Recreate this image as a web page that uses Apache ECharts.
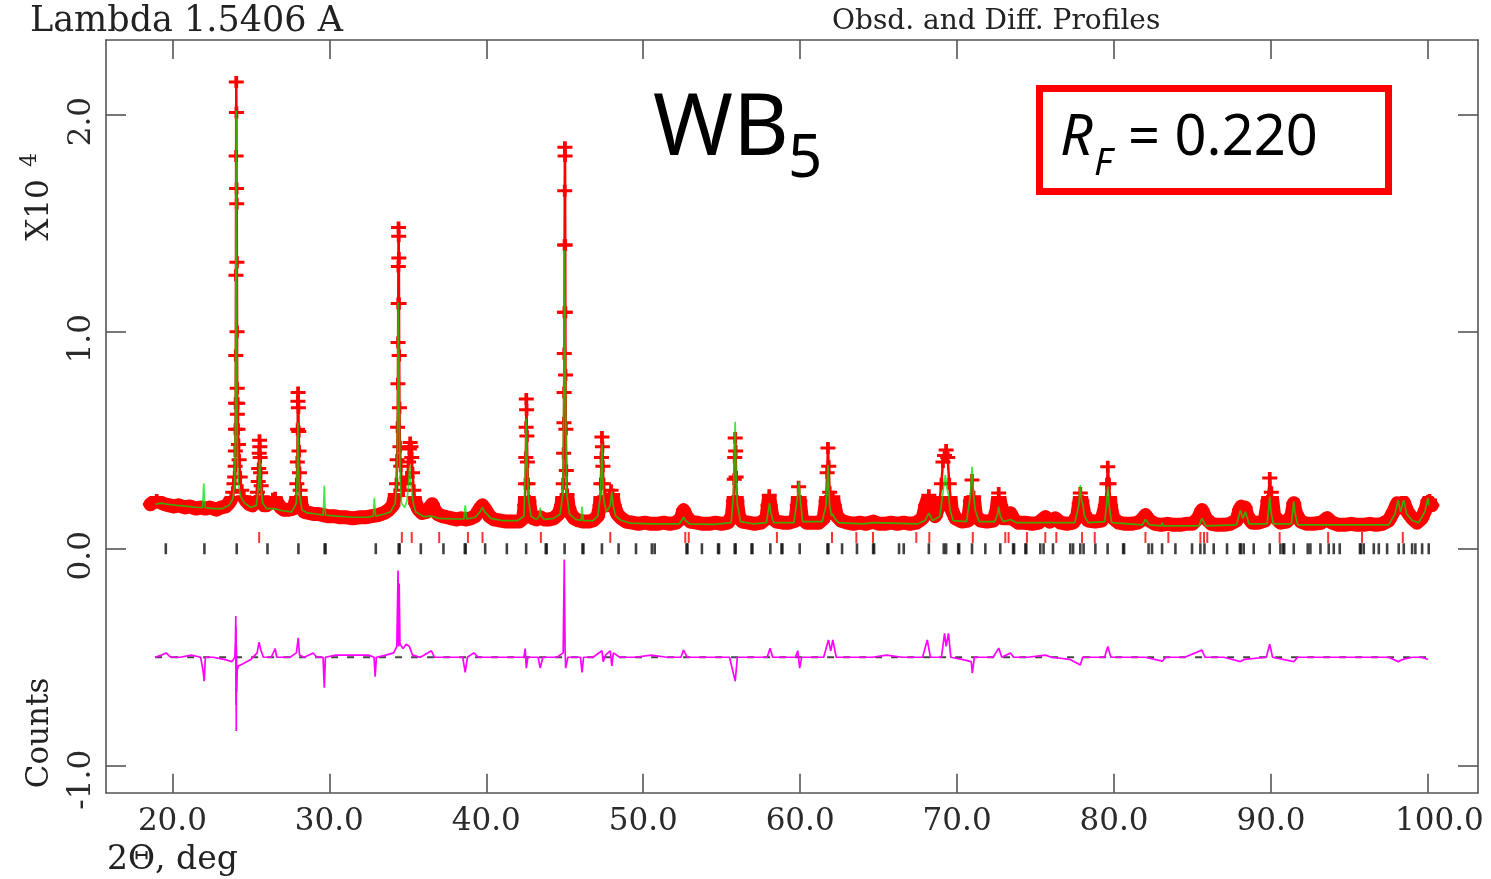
<!DOCTYPE html>
<html><head><meta charset="utf-8">
<script src="https://cdn.jsdelivr.net/npm/echarts@6/dist/echarts.min.js"></script>
<style>html,body{margin:0;padding:0;background:#fff}#chart{width:1491px;height:879px}</style>
</head><body><div id="chart"></div>
<script>
const xTickValues=[20,30,40,50,60,70,80,90,100];
const yTickValues=[-1,0,1,2];

const obsData=[[18.6,0.205],[18.8,0.215],[19.0,0.225],[19.2,0.215],[19.5,0.205],[19.8,0.2],[20.1,0.195],[20.4,0.2],[20.8,0.19],[21.1,0.195],[21.5,0.185],[21.8,0.19],[22.1,0.185],[22.4,0.19],[22.8,0.18],[23.1,0.19],[23.4,0.195],[23.6,0.21],[23.75,0.23],
[23.85,0.26],[23.92,0.3],[23.97,0.33],[24.0,0.38],[24.01,0.45],[24.02,0.55],[24.03,0.67],[24.04,0.89],[24.05,1.26],[24.06,1.81],[24.07,2.15],[24.08,2.01],[24.09,1.66],[24.1,1.59],[24.11,1.32],[24.12,1.0],[24.13,0.74],[24.14,0.62],[24.16,0.67],[24.18,0.55],[24.21,0.48],[24.25,0.41],[24.32,0.33],[24.42,0.27],[24.55,0.24],[24.7,0.22],[24.9,0.205],[25.1,0.2],[25.3,0.22],
[25.42,0.26],[25.47,0.31],[25.5,0.37],[25.53,0.44],[25.55,0.5],[25.57,0.47],[25.59,0.42],[25.62,0.35],[25.66,0.29],[25.72,0.24],[25.85,0.2],[26.0,0.2],[26.2,0.21],[26.4,0.23],[26.55,0.235],[26.7,0.21],[26.9,0.19],[27.1,0.18],[27.4,0.18],[27.7,0.185],
[27.88,0.22],[27.93,0.3],[27.96,0.4],[27.98,0.55],[28.0,0.68],[28.01,0.72],[28.03,0.65],[28.05,0.54],[28.07,0.45],[28.1,0.35],[28.14,0.27],[28.22,0.2],[28.4,0.17],[28.7,0.165],[29.0,0.16],[29.3,0.16],[29.6,0.155],[29.9,0.15],[30.3,0.15],[30.7,0.145],[31.1,0.145],[31.5,0.14],[31.9,0.145],[32.3,0.145],[32.7,0.15],[33.1,0.155],[33.5,0.165],[33.8,0.18],[34.05,0.2],[34.2,0.25],
[34.28,0.3],[34.32,0.41],[34.35,0.56],[34.37,0.76],[34.38,0.95],[34.39,1.13],[34.4,1.30],[34.41,1.48],[34.42,1.44],[34.43,1.34],[34.44,1.13],[34.45,0.89],[34.47,0.65],[34.5,0.47],[34.55,0.38],[34.62,0.3],[34.7,0.27],[34.8,0.3],
[34.95,0.33],[35.05,0.4],[35.1,0.46],[35.15,0.49],[35.2,0.47],[35.25,0.42],[35.3,0.35],[35.38,0.27],[35.5,0.21],[35.7,0.18],[35.9,0.165],[36.2,0.17],[36.4,0.19],[36.55,0.205],[36.7,0.18],[36.9,0.16],[37.2,0.15],[37.5,0.145],[37.8,0.14],[38.1,0.135],[38.4,0.14],[38.7,0.135],[39.0,0.14],[39.3,0.15],[39.55,0.18],[39.75,0.2],[39.95,0.18],[40.2,0.15],[40.5,0.135],[40.9,0.13],[41.3,0.125],[41.7,0.125],[42.1,0.125],[42.35,0.14],
[42.45,0.2],[42.5,0.3],[42.52,0.42],[42.54,0.56],[42.55,0.69],[42.57,0.64],[42.59,0.52],[42.62,0.4],[42.66,0.3],[42.72,0.22],[42.85,0.16],[43.0,0.14],[43.2,0.135],[43.45,0.145],[43.7,0.135],[44.0,0.135],[44.3,0.14],[44.6,0.16],[44.8,0.2],
[44.9,0.3],[44.93,0.44],[44.95,0.58],[44.96,0.72],[44.97,0.90],[44.98,1.09],[44.99,1.4],[45.0,1.65],[45.01,1.85],[45.02,1.81],[45.03,1.4],[45.04,1.09],[45.05,0.8],[45.07,0.55],[45.1,0.36],[45.15,0.25],[45.25,0.19],[45.4,0.16],[45.6,0.14],[45.9,0.13],[46.2,0.125],[46.5,0.125],[46.8,0.13],[47.1,0.15],
[47.25,0.2],[47.3,0.3],[47.34,0.42],[47.37,0.515],[47.4,0.47],[47.43,0.38],[47.47,0.3],[47.55,0.24],[47.7,0.2],[47.85,0.24],[47.95,0.27],[48.05,0.25],[48.15,0.2],[48.35,0.16],[48.6,0.14],[48.9,0.125],[49.3,0.12],[49.7,0.115],[50.1,0.12],[50.5,0.115],[50.9,0.115],[51.3,0.12],[51.7,0.115],[52.1,0.12],[52.4,0.14],[52.57,0.178],[52.75,0.15],[53.0,0.125],[53.4,0.12],[53.8,0.115],[54.2,0.115],[54.6,0.12],[55.0,0.115],[55.4,0.12],[55.65,0.15],
[55.75,0.22],[55.8,0.32],[55.83,0.42],[55.86,0.51],[55.89,0.45],[55.92,0.33],[55.97,0.22],[56.1,0.15],[56.3,0.125],[56.7,0.12],[57.1,0.115],[57.5,0.12],[57.85,0.14],[57.95,0.2],[58.03,0.247],[58.1,0.2],[58.25,0.14],[58.5,0.125],[58.9,0.12],[59.3,0.12],[59.7,0.13],[59.82,0.2],[59.9,0.286],[59.98,0.22],[60.1,0.14],[60.4,0.12],[60.8,0.12],[61.2,0.12],[61.5,0.14],[61.65,0.22],[61.72,0.35],[61.77,0.464],[61.82,0.38],[61.88,0.26],[61.98,0.2],[62.08,0.24],[62.18,0.2],[62.35,0.15],[62.6,0.13],[63.0,0.12],[63.4,0.115],[63.8,0.12],[64.2,0.115],[64.65,0.125],[65.0,0.115],[65.4,0.115],[65.8,0.12],[66.2,0.115],[66.6,0.12],[67.0,0.115],[67.4,0.12],[67.8,0.14],[68.0,0.2],[68.2,0.247],[68.4,0.19],[68.6,0.15],[68.85,0.2],[69.0,0.3],[69.1,0.4],[69.2,0.43],[69.3,0.455],[69.4,0.42],[69.5,0.3],[69.65,0.18],[69.9,0.14],[70.3,0.125],[70.7,0.13],[70.85,0.22],[70.95,0.317],[71.05,0.24],[71.2,0.15],[71.5,0.13],[71.9,0.125],[72.3,0.13],[72.5,0.17],[72.65,0.257],[72.78,0.2],[72.95,0.14],[73.2,0.14],[73.4,0.164],[73.6,0.135],[73.9,0.12],[74.3,0.12],[74.8,0.115],[75.2,0.12],[75.63,0.146],[75.9,0.125],[76.26,0.14],[76.6,0.12],[77.0,0.115],[77.4,0.12],[77.65,0.15],[77.78,0.21],[77.85,0.257],[77.95,0.22],[78.1,0.16],[78.35,0.13],[78.8,0.125],[79.2,0.13],[79.45,0.2],[79.55,0.3],[79.6,0.378],[79.68,0.3],[79.78,0.2],[79.95,0.14],[80.3,0.12],[80.7,0.115],[81.1,0.115],[81.5,0.12],[81.8,0.135],[82.0,0.155],[82.25,0.13],[82.6,0.115],[83.0,0.11],[83.4,0.115],[83.8,0.11],[84.2,0.11],[84.6,0.115],[85.0,0.115],[85.35,0.14],[85.6,0.178],[85.85,0.14],[86.2,0.115],[86.6,0.11],[87.0,0.11],[87.4,0.115],[87.8,0.13],[88.0,0.18],[88.1,0.194],[88.2,0.16],[88.35,0.19],[88.5,0.15],[88.8,0.12],[89.2,0.12],[89.6,0.13],[89.8,0.22],[89.92,0.326],[90.02,0.26],[90.2,0.15],[90.6,0.12],[91.0,0.125],[91.3,0.15],[91.45,0.21],[91.6,0.16],[91.9,0.125],[92.3,0.115],[92.7,0.115],[93.2,0.12],[93.58,0.141],[93.9,0.12],[94.3,0.11],[94.7,0.11],[95.1,0.115],[95.5,0.11],[95.9,0.11],[96.3,0.115],[96.7,0.11],[97.1,0.115],[97.5,0.13],[97.8,0.17],[98.05,0.21],[98.2,0.19],[98.45,0.215],[98.7,0.17],[99.0,0.14],[99.3,0.12],[99.6,0.14],[99.85,0.18],[100.0,0.22],[100.1,0.225],[100.25,0.2]];

const calcData=[[18.9,0.205],[19.3,0.21],[19.7,0.205],[20.3,0.2],[21.0,0.195],[21.6,0.19],[21.92,0.19],[21.97,0.25],[22.0,0.3],[22.03,0.25],[22.08,0.19],[22.6,0.185],[23.2,0.185],[23.6,0.2],[23.85,0.23],[23.97,0.3],[24.02,0.6],[24.04,1.2],[24.06,1.75],[24.07,2.02],[24.08,1.7],[24.1,1.0],[24.12,0.58],[24.13,0.56],[24.15,0.4],[24.2,0.3],[24.35,0.24],[24.6,0.21],[25.0,0.19],[25.35,0.2],[25.5,0.3],[25.56,0.41],[25.62,0.3],[25.75,0.21],[26.0,0.185],[26.5,0.185],[27.0,0.175],[27.6,0.17],[27.9,0.21],[27.97,0.4],[28.0,0.58],[28.03,0.4],[28.06,0.34],[28.1,0.25],[28.25,0.18],[28.6,0.165],[29.2,0.16],[29.6,0.155],[29.65,0.22],[29.68,0.29],[29.71,0.22],[29.76,0.155],[30.5,0.15],[31.5,0.145],[32.4,0.145],[32.8,0.15],[32.84,0.2],[32.87,0.235],[32.9,0.2],[32.95,0.15],[33.5,0.16],[33.9,0.17],[34.2,0.21],[34.32,0.35],[34.36,0.7],[34.39,1.134],[34.42,0.9],[34.44,0.86],[34.47,0.55],[34.52,0.3],[34.6,0.21],[34.8,0.19],[34.95,0.22],[35.05,0.3],[35.12,0.385],[35.18,0.3],[35.24,0.28],[35.32,0.22],[35.5,0.17],[36.0,0.148],[36.5,0.15],[37.0,0.14],[38.0,0.137],[38.58,0.137],[38.63,0.18],[38.66,0.2],[38.69,0.18],[38.75,0.137],[39.3,0.145],[39.6,0.17],[39.75,0.19],[39.9,0.17],[40.3,0.14],[41.0,0.13],[42.0,0.13],[42.4,0.15],[42.5,0.4],[42.55,0.6],[42.6,0.4],[42.63,0.35],[42.7,0.22],[42.85,0.15],[43.2,0.135],[43.38,0.15],[43.44,0.19],[43.5,0.15],[43.7,0.135],[44.3,0.14],[44.7,0.16],[44.88,0.25],[44.95,0.8],[44.99,1.376],[45.02,1.0],[45.05,0.68],[45.08,0.5],[45.13,0.25],[45.3,0.16],[45.7,0.135],[46.05,0.13],[46.08,0.17],[46.1,0.194],[46.13,0.17],[46.18,0.13],[46.8,0.13],[47.1,0.15],[47.28,0.25],[47.34,0.4],[47.37,0.48],[47.41,0.35],[47.45,0.257],[47.5,0.22],[47.65,0.17],[47.9,0.2],[48.0,0.263],[48.08,0.2],[48.25,0.15],[48.6,0.13],[49.2,0.118],[50.5,0.115],[52.3,0.115],[52.45,0.13],[52.57,0.146],[52.7,0.13],[52.95,0.115],[54.5,0.112],[55.6,0.12],[55.75,0.25],[55.83,0.5],[55.86,0.585],[55.9,0.4],[55.93,0.3],[56.0,0.2],[56.2,0.125],[57.0,0.115],[57.85,0.12],[57.98,0.18],[58.05,0.21],[58.12,0.17],[58.3,0.12],[59.6,0.12],[59.85,0.25],[59.92,0.309],[59.99,0.24],[60.15,0.125],[61.4,0.125],[61.65,0.2],[61.74,0.33],[61.77,0.386],[61.82,0.28],[61.88,0.2],[62.0,0.15],[62.08,0.16],[62.2,0.14],[62.45,0.12],[64.0,0.115],[64.65,0.12],[67.5,0.115],[67.95,0.13],[68.2,0.164],[68.45,0.13],[68.9,0.15],[69.1,0.26],[69.25,0.34],[69.35,0.28],[69.45,0.25],[69.55,0.18],[69.75,0.13],[70.6,0.125],[70.85,0.25],[70.95,0.378],[71.05,0.25],[71.15,0.18],[71.4,0.125],[72.4,0.125],[72.58,0.16],[72.65,0.194],[72.75,0.15],[72.95,0.125],[73.4,0.135],[73.8,0.12],[77.5,0.12],[77.75,0.2],[77.85,0.293],[77.93,0.22],[78.0,0.21],[78.12,0.15],[78.35,0.12],[79.4,0.125],[79.52,0.2],[79.6,0.286],[79.68,0.2],[79.85,0.12],[81.8,0.11],[82.0,0.135],[82.25,0.11],[83.0,0.105],[83.07,0.12],[83.14,0.105],[85.4,0.105],[85.6,0.14],[85.85,0.105],[87.8,0.11],[88.05,0.178],[88.2,0.14],[88.37,0.17],[88.6,0.115],[89.75,0.115],[89.85,0.18],[89.92,0.24],[90.0,0.17],[90.15,0.115],[91.3,0.115],[91.4,0.18],[91.45,0.217],[91.52,0.17],[91.7,0.11],[93.5,0.11],[97.5,0.11],[97.9,0.16],[98.1,0.224],[98.25,0.17],[98.45,0.224],[98.65,0.16],[99.0,0.13],[99.4,0.12],[99.8,0.17],[100.0,0.233],[100.05,0.2]];

const diffData=[[18.9,-0.5],[19.3,-0.49],[19.6,-0.48],[19.9,-0.5],[20.5,-0.5],[21.2,-0.49],[21.8,-0.5],[21.95,-0.56],[22.03,-0.61],[22.1,-0.5],[22.6,-0.5],[23.3,-0.51],[23.8,-0.52],[23.98,-0.5],[24.02,-0.42],[24.04,-0.31],[24.05,-0.72],[24.06,-0.36],[24.07,-0.84],[24.08,-0.45],[24.1,-0.66],[24.13,-0.56],[24.2,-0.54],[24.5,-0.53],[25.0,-0.51],[25.4,-0.48],[25.52,-0.43],[25.65,-0.47],[25.8,-0.5],[26.3,-0.5],[26.55,-0.46],[26.65,-0.5],[27.0,-0.5],[27.5,-0.5],[27.9,-0.48],[28.02,-0.41],[28.1,-0.49],[28.4,-0.5],[28.97,-0.48],[29.2,-0.5],[29.6,-0.5],[29.68,-0.64],[29.75,-0.5],[30.4,-0.49],[31.5,-0.49],[32.5,-0.49],[32.85,-0.5],[32.92,-0.59],[33.0,-0.5],[33.6,-0.49],[34.1,-0.48],[34.3,-0.45],[34.38,-0.10],[34.42,-0.45],[34.45,-0.16],[34.5,-0.44],[34.7,-0.46],[34.9,-0.44],[35.1,-0.45],[35.3,-0.49],[35.8,-0.5],[36.5,-0.47],[36.7,-0.5],[37.5,-0.5],[38.5,-0.5],[38.66,-0.57],[38.8,-0.5],[39.2,-0.48],[39.5,-0.5],[40.5,-0.5],[41.5,-0.5],[42.4,-0.5],[42.48,-0.46],[42.55,-0.55],[42.65,-0.5],[43.3,-0.5],[43.44,-0.55],[43.6,-0.5],[44.5,-0.5],[44.9,-0.48],[44.97,-0.05],[45.02,-0.46],[45.06,-0.55],[45.2,-0.5],[46.0,-0.5],[46.1,-0.57],[46.2,-0.5],[46.8,-0.5],[47.37,-0.47],[47.45,-0.52],[47.6,-0.49],[47.9,-0.47],[48.0,-0.54],[48.1,-0.48],[48.5,-0.5],[49.5,-0.5],[50.5,-0.49],[51.5,-0.5],[52.4,-0.5],[52.57,-0.467],[52.8,-0.5],[54.0,-0.5],[55.5,-0.5],[55.86,-0.61],[56.0,-0.5],[57.0,-0.5],[57.9,-0.5],[58.08,-0.458],[58.25,-0.5],[59.7,-0.5],[59.85,-0.47],[59.97,-0.55],[60.1,-0.5],[61.5,-0.5],[61.8,-0.42],[61.95,-0.47],[62.08,-0.42],[62.3,-0.5],[63.3,-0.5],[64.6,-0.5],[65.5,-0.49],[66.5,-0.5],[67.8,-0.5],[68.1,-0.42],[68.3,-0.5],[69.0,-0.5],[69.2,-0.39],[69.3,-0.45],[69.45,-0.39],[69.6,-0.5],[70.3,-0.51],[70.9,-0.52],[70.97,-0.573],[71.1,-0.5],[72.3,-0.5],[72.65,-0.458],[72.85,-0.5],[73.4,-0.48],[73.6,-0.5],[74.5,-0.5],[75.63,-0.49],[76.0,-0.5],[77.2,-0.51],[77.85,-0.536],[78.0,-0.5],[79.4,-0.5],[79.6,-0.45],[79.8,-0.5],[81.0,-0.5],[82.0,-0.5],[83.07,-0.518],[83.3,-0.5],[84.5,-0.5],[85.6,-0.467],[85.8,-0.5],[87.0,-0.5],[88.05,-0.52],[88.3,-0.51],[89.7,-0.5],[89.92,-0.44],[90.1,-0.5],[91.45,-0.52],[91.7,-0.5],[93.0,-0.5],[94.5,-0.5],[96.0,-0.5],[97.5,-0.5],[98.1,-0.52],[98.4,-0.51],[99.0,-0.5],[99.6,-0.5],[100.0,-0.51]];

const diffZeroLine=[[18.9,-0.5],[100.0,-0.5]];

const wb5ReflectionX=[19.58,22.04,24.1,26.06,28.03,29.70,29.76,32.96,34.42,34.48,35.83,37.27,38.63,38.69,39.93,41.31,42.54,43.79,43.85,44.99,46.13,46.19,47.37,48.43,49.54,50.55,50.73,52.76,52.82,53.74,54.77,54.83,55.83,55.89,56.9,56.96,58.1,58.81,58.87,59.97,61.74,61.8,62.67,63.62,64.65,64.71,66.3,66.6,68.2,69.15,69.3,70.07,70.13,70.95,71.8,72.75,73.57,73.63,74.35,74.41,75.3,75.51,76.11,77.21,77.39,77.85,78.06,78.81,79.59,80.58,80.64,82.2,82.42,83.06,83.91,84.97,85.5,85.76,86.35,87.2,88.02,88.08,88.26,88.9,89.92,90.6,90.78,90.84,91.45,92.34,92.51,93.15,93.68,94.0,94.38,95.67,95.73,95.91,96.55,96.87,97.4,98.14,98.46,98.99,99.2,99.63,100.05];
const phase2ReflectionX=[25.53,34.62,35.25,37.0,38.83,39.76,43.48,47.9,52.68,52.9,58.52,62.03,63.58,64.64,67.4,68.23,71.0,73.07,73.28,74.45,75.62,76.32,77.96,78.77,82.0,83.46,85.5,85.73,85.94,90.55,93.64,95.8,98.4];

const chart=echarts.init(document.getElementById('chart'),null,{renderer:'canvas'});
const serif='"DejaVu Serif"';
const axisCol='#555';
const labCol='#2a2a2a';
const plusPath='path://M4.5,0H7.5V4.5H12V7.5H7.5V12H4.5V7.5H0V4.5H4.5Z';
const bandTop=0.245;
function xAx(pos,labels){return {type:'value',min:15.77,max:103.19,position:pos,
  axisLine:{show:true,onZero:false,lineStyle:{color:axisCol,width:1.6}},
  axisTick:{show:true,inside:true,length:19,customValues:xTickValues,lineStyle:{color:axisCol,width:1.6}},
  axisLabel:{show:labels,customValues:xTickValues,
    formatter:v=>v>=100?'{w|'+v.toFixed(1)+'}':v.toFixed(1),
    rich:{w:{padding:[0,0,0,23],fontFamily:serif,fontSize:31,color:labCol}},
    fontFamily:serif,fontSize:31,color:labCol,margin:14},
  splitLine:{show:false}};}
function yAx(pos,labels){return {type:'value',min:-1.124,max:2.344,position:pos,
  axisLine:{show:true,onZero:false,lineStyle:{color:axisCol,width:1.6}},
  axisTick:{show:true,inside:true,length:20,customValues:yTickValues,lineStyle:{color:axisCol,width:1.6}},
  axisLabel:{show:labels,customValues:yTickValues,rotate:90,
    formatter:v=>v<0?'{n|'+v.toFixed(1)+'}':'{p|'+v.toFixed(1)+'}',
    rich:{p:{padding:[0,14,0,0],fontFamily:serif,fontSize:31,color:labCol},n:{padding:[0,28,0,0],fontFamily:serif,fontSize:31,color:labCol}},
    fontFamily:serif,fontSize:31,color:labCol,margin:9},
  splitLine:{show:false}};}

chart.setOption({
  animation:false,
  backgroundColor:'#fff',
  grid:{left:106,top:40,width:1372,height:752.7,show:false},
  xAxis:[xAx('bottom',true),xAx('top',false)],
  yAxis:[yAx('left',true),yAx('right',false)],
  series:[
    {id:'zero',type:'line',data:diffZeroLine,symbol:'none',lineStyle:{color:'#444',width:2,type:[7,9]},z:1,silent:true},
    {id:'diff',type:'line',data:diffData,symbol:'none',lineStyle:{color:'#ff00ff',width:1.7},z:2,silent:true},
    {id:'band',type:'line',data:obsData,symbol:'none',lineStyle:{color:'#ff0000',width:14,join:'round',cap:'round'},z:3,silent:true},
    {id:'obs',type:'line',data:obsData,symbol:plusPath,symbolSize:[15,12],showAllSymbol:true,itemStyle:{color:'#ff0000'},
      lineStyle:{color:'#ff0000',width:2.5},z:3,silent:true},
    {id:'calc',type:'line',data:calcData,symbol:'none',lineStyle:{color:'#00e000',width:1.7,opacity:0.75},z:4,silent:true},
    {id:'t1',type:'scatter',data:wb5ReflectionX.map(x=>[x,0]),symbol:'rect',symbolSize:[2.6,11],itemStyle:{color:'#111'},z:5,silent:true},
    {id:'t2',type:'scatter',data:phase2ReflectionX.map(x=>[x,0.052]),symbol:'rect',symbolSize:[2,11],itemStyle:{color:'#ff0000'},z:5,silent:true}
  ],
  graphic:[
    {type:'text',x:30,y:22,style:{text:'Lambda 1.5406 A',font:'35px '+serif,fill:'#222',textVerticalAlign:'middle'}},
    {type:'text',x:832,y:22,style:{text:'Obsd. and Diff. Profiles',font:'28px '+serif,fill:'#222',textVerticalAlign:'middle'}},
    {type:'text',x:107,y:860,style:{text:'2Θ, deg',font:'33px '+serif,fill:'#222',textVerticalAlign:'middle'}},
    {type:'text',x:40,y:733,rotation:Math.PI/2,style:{text:'Counts',font:'31px '+serif,fill:'#222',textAlign:'center',textVerticalAlign:'middle'}},
    {type:'text',x:40,y:210,rotation:Math.PI/2,style:{text:'X10',font:'31px '+serif,fill:'#222',textAlign:'center',textVerticalAlign:'middle'}},
    {type:'text',x:30,y:160,rotation:Math.PI/2,style:{text:'4',font:'22px '+serif,fill:'#222',textAlign:'center',textVerticalAlign:'middle'}},
    {type:'text',x:653,y:130,style:{text:'WB',font:'86px "Noto Sans"',fill:'#000',textVerticalAlign:'middle'}},
    {type:'text',x:788,y:160,style:{text:'5',font:'60px "Noto Sans"',fill:'#000',textVerticalAlign:'middle'}},
    {type:'rect',shape:{x:1039.5,y:88.5,width:349,height:103},style:{fill:'none',stroke:'#ff0000',lineWidth:7}},
    {type:'text',x:1060,y:139,style:{text:'R',font:'italic 57px "Noto Sans"',fill:'#000',textVerticalAlign:'middle'}},
    {type:'text',x:1094,y:164,style:{text:'F',font:'italic 38px "Noto Sans"',fill:'#000',textVerticalAlign:'middle'}},
    {type:'text',x:1128,y:139,style:{text:'= 0.220',font:'56px "Noto Sans"',fill:'#000',textVerticalAlign:'middle'}}
  ]
});

// the thick band is only drawn below bandTop; above it the observed points show as "+" ladders
const H=chart.getHeight();
const cut=Math.min(1,Math.max(0,chart.convertToPixel({yAxisIndex:0},bandTop)/H));
chart.setOption({series:[{id:'band',lineStyle:{color:{type:'linear',x:0,y:0,x2:0,y2:H,global:true,
  colorStops:[{offset:0,color:'rgba(255,0,0,0)'},{offset:cut,color:'rgba(255,0,0,0)'},{offset:cut,color:'#ff0000'},{offset:1,color:'#ff0000'}]}}}]});
</script></body></html>
